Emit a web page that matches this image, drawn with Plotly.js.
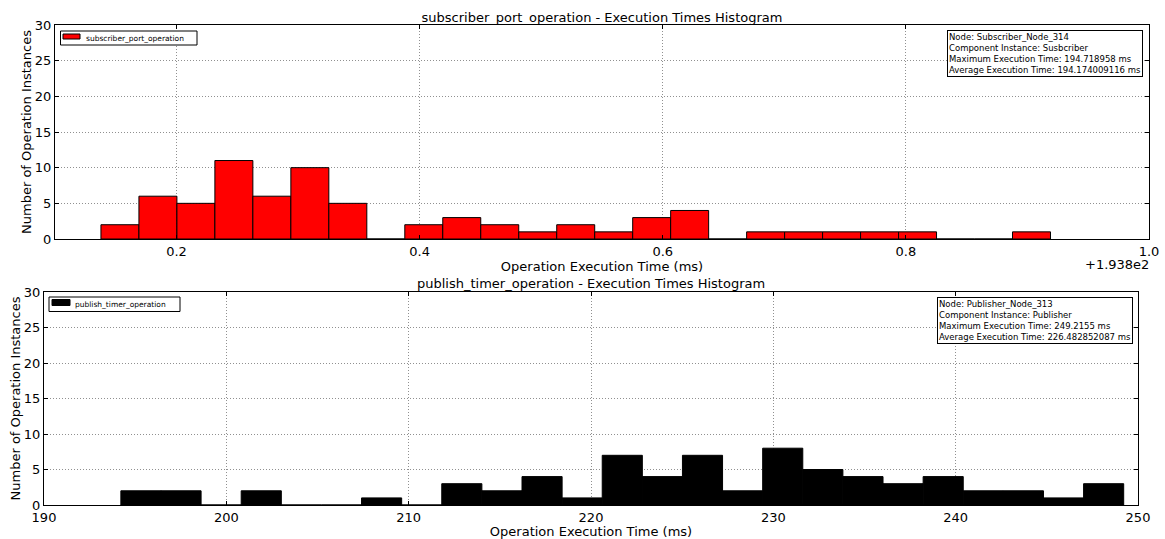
<!DOCTYPE html>
<html>
<head>
<meta charset="utf-8">
<script src="https://cdn.plot.ly/plotly-3.0.1.min.js"></script>
<style>html,body{margin:0;padding:0;background:#fff;}#chart{width:1165px;height:539px;}</style>
</head>
<body>
<div id="chart"></div>
<script>
// ---- Data ----
const subName = "subscriber_port_operation";
const subBinMin = 193.9378;
const subBinMax = 194.718958;
const subCounts = [2, 6, 5, 11, 6, 10, 5, 0, 2, 3, 2, 1, 2, 1, 3, 4, 0, 1, 1, 1, 1, 1, 0, 0, 1];
const subTickVals = [194.0, 194.2, 194.4, 194.6, 194.8];
const subTickText = ["0.2", "0.4", "0.6", "0.8", "1.0"];
const subInfo = ["Node: Subscriber_Node_314", "Component Instance: Susbcriber",
                 "Maximum Execution Time: 194.718958 ms", "Average Execution Time: 194.174009116 ms"];

const pubName = "publish_timer_operation";
const pubBinMin = 194.2155;
const pubBinMax = 249.2155;
const pubCounts = [2, 2, 0, 2, 0, 0, 1, 0, 3, 2, 4, 1, 7, 4, 7, 2, 8, 5, 4, 3, 4, 2, 2, 1, 3];
const pubTickVals = [190, 200, 210, 220, 230, 240, 250];
const pubInfo = ["Node: Publisher_Node_313", "Component Instance: Publisher",
                 "Maximum Execution Time: 249.2155 ms", "Average Execution Time: 226.482852087 ms"];

const yTickVals = [0, 5, 10, 15, 20, 25, 30];

// ---- Histogram bins (equal width between min and max, like numpy) ----
function binCenters(lo, hi, n) {
  const w = (hi - lo) / n;
  const c = [];
  for (let i = 0; i < n; i++) c.push(lo + w * (i + 0.5));
  return {centers: c, width: w};
}
const subBins = binCenters(subBinMin, subBinMax, subCounts.length);
const pubBins = binCenters(pubBinMin, pubBinMax, pubCounts.length);

const FONT = "DejaVu Sans, Liberation Sans, sans-serif";
const SUB_COLOR = "#ff0000", PUB_COLOR = "#000000";

const traces = [
  {type: "bar", name: subName, x: subBins.centers, y: subCounts, width: subBins.width,
   marker: {color: SUB_COLOR, line: {color: "#000000", width: 1}},
   xaxis: "x", yaxis: "y", showlegend: false, hoverinfo: "x+y"},
  {type: "bar", name: pubName, x: pubBins.centers, y: pubCounts, width: pubBins.width,
   marker: {color: PUB_COLOR, line: {color: "#000000", width: 1}},
   xaxis: "x2", yaxis: "y2", showlegend: false, hoverinfo: "x+y"}
];

const W = 1165, H = 539;
const px = v => v / W;
const py = v => 1 - v / H;

const axisCommon = {
  showline: true, mirror: "ticks", linecolor: "#000000", linewidth: 1,
  ticks: "inside", ticklen: 4, tickcolor: "#000000",
  showgrid: true, gridcolor: "#909090", griddash: "1px,2px", gridwidth: 1,
  zeroline: false, tickfont: {family: FONT, size: 13, color: "#000"},
  fixedrange: true
};

// manual matplotlib-style legend boxes: [box x0,x1,y0,y1], [swatch x0,x1,y0,y1], text x
function legendItems(name, color, box, sw, textX) {
  const shapes = [
    {type: "rect", xref: "paper", yref: "paper", x0: px(box[0]), x1: px(box[1]), y0: py(box[3]), y1: py(box[2]),
     line: {color: "#000", width: 1}, fillcolor: "#fff", layer: "above"},
    {type: "rect", xref: "paper", yref: "paper", x0: px(sw[0]), x1: px(sw[1]), y0: py(sw[3]), y1: py(sw[2]),
     line: {color: "#000", width: 1}, fillcolor: color, layer: "above"}
  ];
  const ann = {text: name, xref: "paper", yref: "paper", x: px(textX), y: py((box[2] + box[3]) / 2),
               xanchor: "left", yanchor: "middle", showarrow: false,
               font: {family: FONT, size: 7.5, color: "#000"}};
  return {shapes, ann};
}
const leg1 = legendItems(subName, SUB_COLOR, [60.5, 197, 31, 45], [63, 80, 34, 39], 84);
const leg2 = legendItems(pubName, PUB_COLOR, [49, 180, 297, 311.5], [52, 70, 299.5, 305.5], 72.5);

const layout = {
  width: W, height: H,
  margin: {l: 0, r: 0, t: 0, b: 0},
  paper_bgcolor: "#ffffff", plot_bgcolor: "#ffffff",
  font: {family: FONT, color: "#000"},
  bargap: 0,
  showlegend: false,
  title: {text: subName + " - Execution Times Histogram", font: {family: FONT, size: 13, color: "#000"},
          x: px(602), xanchor: "center", y: py(17), yanchor: "middle", xref: "paper", yref: "paper"},
  xaxis: Object.assign({}, axisCommon, {
    domain: [px(55), px(1149)], anchor: "y", range: [193.9, 194.8],
    tickmode: "array", tickvals: subTickVals, ticktext: subTickText,
    title: {text: "Operation Execution Time (ms)", font: {family: FONT, size: 13, color: "#000"}, standoff: 3}
  }),
  yaxis: Object.assign({}, axisCommon, {
    domain: [py(239), py(25)], anchor: "x", range: [0, 30],
    tickmode: "array", tickvals: yTickVals,
    title: {text: "Number of Operation Instances", font: {family: FONT, size: 13, color: "#000"}, standoff: 0}
  }),
  xaxis2: Object.assign({}, axisCommon, {
    domain: [px(44), px(1138)], anchor: "y2", range: [190, 250],
    tickmode: "array", tickvals: pubTickVals,
    title: {text: "Operation Execution Time (ms)", font: {family: FONT, size: 13, color: "#000"}, standoff: 4}
  }),
  yaxis2: Object.assign({}, axisCommon, {
    domain: [py(505), py(292)], anchor: "x2", range: [0, 30],
    tickmode: "array", tickvals: yTickVals,
    title: {text: "Number of Operation Instances", font: {family: FONT, size: 13, color: "#000"}, standoff: 0}
  }),
  shapes: [].concat(leg1.shapes, leg2.shapes),
  annotations: [
    leg1.ann, leg2.ann,
    {text: pubName + " - Execution Times Histogram", xref: "paper", yref: "paper",
     x: px(591), y: py(283), xanchor: "center", yanchor: "middle", showarrow: false,
     font: {family: FONT, size: 13, color: "#000"}},
    {text: "+1.938e2", xref: "paper", yref: "paper", x: px(1150), y: py(264),
     xanchor: "right", yanchor: "middle", showarrow: false, borderpad: 0,
     font: {family: FONT, size: 13, color: "#000"}},
    {text: subInfo.join("<br>"), xref: "paper", yref: "paper", x: px(947), y: py(30),
     xanchor: "left", yanchor: "top", align: "left", showarrow: false,
     bgcolor: "#fff", bordercolor: "#000", borderwidth: 1, borderpad: 1,
     font: {family: FONT, size: 8.5, color: "#000"}},
    {text: pubInfo.join("<br>"), xref: "paper", yref: "paper", x: px(937), y: py(297),
     xanchor: "left", yanchor: "top", align: "left", showarrow: false,
     bgcolor: "#fff", bordercolor: "#000", borderwidth: 1, borderpad: 1,
     font: {family: FONT, size: 8.5, color: "#000"}}
  ]
};

Plotly.newPlot("chart", traces, layout, {displayModeBar: false, staticPlot: true});
</script>
</body>
</html>
